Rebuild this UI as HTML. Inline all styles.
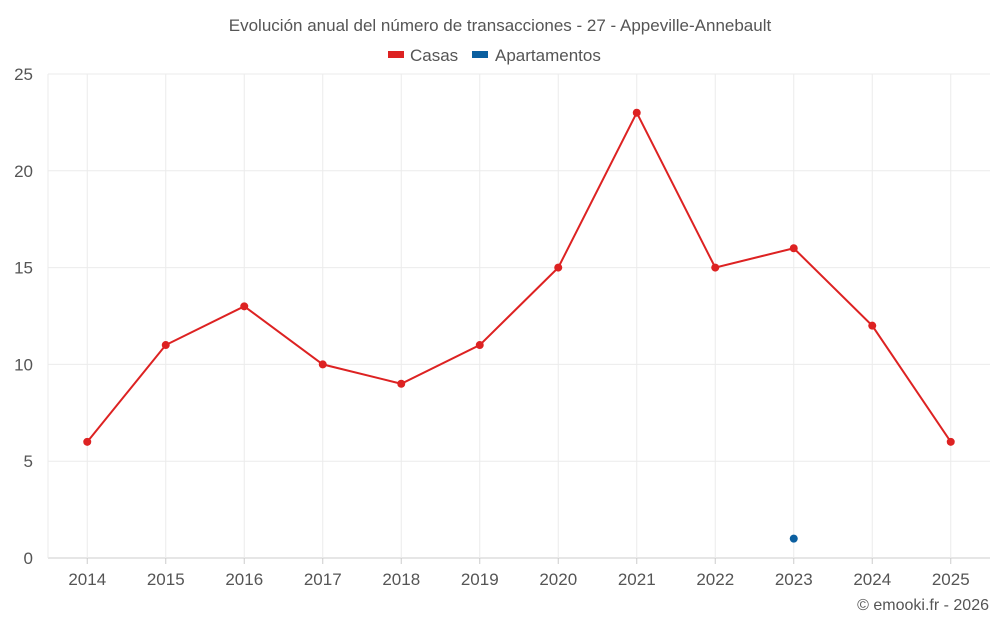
<!DOCTYPE html>
<html><head><meta charset="utf-8"><style>
body{margin:0;background:#fff;font-family:"Liberation Sans",sans-serif;}
svg text{font-family:"Liberation Sans",sans-serif;fill:#555;}
</style></head><body>
<svg id="c" width="1000" height="625">
<text x="500" y="31" text-anchor="middle" font-size="17">Evolución anual del número de transacciones - 27 - Appeville-Annebault</text>
<g>
<g><rect x="388" y="51" width="16" height="7" fill="#dd2222"/><text x="410" y="61" font-size="17">Casas</text></g>
<g><rect x="472" y="51" width="16" height="7" fill="#0b5fa0"/><text x="495" y="61" font-size="17">Apartamentos</text></g>
</g>
<text x="989" y="610" text-anchor="end" font-size="16">© emooki.fr - 2026</text>
</svg>
<script>
const years=['2014','2015','2016','2017','2018','2019','2020','2021','2022','2023','2024','2025'];
const casas=[6,11,13,10,9,11,15,23,15,16,12,6];
const apartamentos=[null,null,null,null,null,null,null,null,null,1,null,null];
const yTicks=[0,5,10,15,20,25];
const svg=document.getElementById('c');const NS='http://www.w3.org/2000/svg';
const L=48,R=990,T=74,B=558,yMax=25;
const bw=(R-L)/years.length;
const x=i=>L+bw*(i+0.5);
const y=v=>B-(v/yMax)*(B-T);
function mk(t,a,p){const e=document.createElementNS(NS,t);for(const k in a)e.setAttribute(k,a[k]);(p||svg).appendChild(e);return e;}
const g=mk('g',{});


yTicks.forEach(v=>{
 mk('line',{x1:L,x2:R,y1:y(v),y2:y(v),stroke:v===0?'#ccc':'#ebebeb','stroke-width':1},g);
 const t=mk('text',{x:33,y:y(v)+6,'text-anchor':'end','font-size':17});t.textContent=v;
 
 
});
mk('line',{x1:L,x2:L,y1:T,y2:B,stroke:'#ebebeb'},g);
years.forEach((yr,i)=>{
 mk('line',{x1:x(i),x2:x(i),y1:T,y2:B,stroke:'#ebebeb'},g);
 mk('line',{x1:x(i),x2:x(i),y1:B,y2:B+6,stroke:'#ccc'},g);
 const t=mk('text',{x:x(i),y:585,'text-anchor':'middle','font-size':17});t.textContent=yr;
 
 
});
const pts=casas.map((v,i)=>v==null?null:[x(i),y(v)]).filter(p=>p);
const pl=mk('polyline',{points:pts.map(p=>p.join(',')).join(' '),fill:'none',stroke:'#dd2222','stroke-width':2});


casas.forEach((v,i)=>{if(v==null)return;const c=mk('circle',{cx:x(i),cy:y(v),r:4,fill:'#dd2222'});
 
 });
apartamentos.forEach((v,i)=>{if(v==null)return;const c=mk('circle',{cx:x(i),cy:y(v),r:4,fill:'#0b5fa0'});
 
 });
</script>
</body></html>
